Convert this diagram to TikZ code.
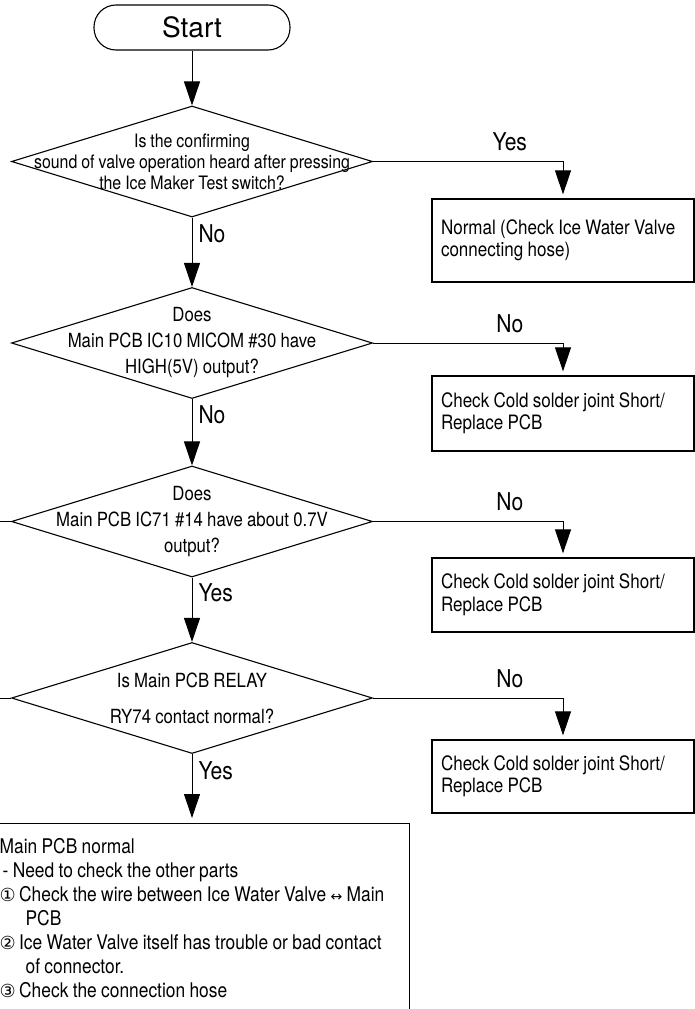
\documentclass[tikz,border=0pt]{standalone}
\usepackage{fontspec}
\setmainfont{TeX Gyre Heros}
\newfontfamily\narrowfont[FakeStretch=0.86, WordSpace=0.9]{TeX Gyre Heros}
\newfontfamily\symbolfont{DejaVu Sans}
\usetikzlibrary{arrows.meta,shapes.geometric}
\newcommand{\symb}[2][18]{{\symbolfont\fontsize{#1}{#1}\selectfont #2}}

\begin{document}
\begin{tikzpicture}[
  x=1pt, y=-1pt,
  >={Triangle[length=24pt,width=16pt]},
  startbox/.style={draw, line width=1.1pt, rounded corners=22pt,
    minimum width=196pt, minimum height=45pt, inner sep=0pt,
    font=\fontsize{28}{30}\selectfont},
  decision/.style={diamond, draw, line width=1.1pt, minimum width=361pt,
    minimum height=111pt, inner sep=0pt},
  qtext/.style={align=center, inner sep=0pt,
    font=\narrowfont\fontsize{19.5}{26}\selectfont},
  result/.style={draw, line width=1.3pt, minimum width=262pt, text width=244pt,
    inner xsep=9pt, align=flush left, font=\narrowfont\fontsize{19.8}{22.5}\selectfont},
  final/.style={draw, line width=1.3pt, text width=400pt, inner xsep=10pt,
    inner ysep=15pt, align=flush left, font=\narrowfont\fontsize{20.2}{24}\selectfont},
  flow/.style={->, line width=1pt},
  lab/.style={inner sep=0pt, font=\narrowfont\fontsize{24.5}{26}\selectfont}
]
  \fill[white] (0,0) rectangle (695,1009);
  \useasboundingbox (0,0) rectangle (695,1009);
  \clip (0,0) rectangle (695,1009);

  % main column
  \node[startbox] (start) at (192,27.5) {Start};
  \node[decision] (d1) at (192,161.5) {};
  \node[qtext, font=\narrowfont\fontsize{18.5}{21}\selectfont] (q1) at (d1.center)
    {Is the confirming\\sound of valve operation heard after pressing\\the Ice Maker Test switch?};
  \node[decision] (d2) at (192,343) {};
  \node[qtext] (q2) at (d2.center)
    {Does\\Main PCB IC10 MICOM \#30 have\\HIGH(5V) output?};
  \node[decision] (d3) at (192,521.5) {};
  \node[qtext] (q3) at (d3.center)
    {Does\\Main PCB IC71 \#14 have about 0.7V\\output?};
  \node[decision] (d4) at (192,698) {};
  \node[qtext, font=\narrowfont\fontsize{19.5}{36}\selectfont] (q4) at (d4.center)
    {Is Main PCB RELAY\\RY74 contact normal?};
  \node[final, anchor=north west] (fin) at (-11,823)
    {Main PCB normal\\
     \hspace*{3pt}- Need to check the other parts\\
     \symb{①}\,Check the wire between Ice Water Valve \symb[14]{↔} Main\\
     \hspace*{26pt}PCB\\
     \symb{②}\,Ice Water Valve itself has trouble or bad contact\\
     \hspace*{26pt}of connector.\\
     \symb{③}\,Check the connection hose};

  % right column
  \node[result, minimum height=83pt] (b1) at (563,240.5)
    {Normal (Check Ice Water Valve\\connecting hose)};
  \node[result, minimum height=75pt] (b2) at (563,413.5)
    {Check Cold solder joint Short/\\Replace PCB};
  \node[result, minimum height=74pt] (b3) at (563,595)
    {Check Cold solder joint Short/\\Replace PCB};
  \node[result, minimum height=73pt] (b4) at (563,776.5)
    {Check Cold solder joint Short/\\Replace PCB};

  \draw[flow] (start.south) -- (d1.north);
  \draw[flow] (d1.south) -- node[lab, right=6pt, pos=0.24]{No} (d2.north);
  \draw[flow] (d2.south) -- node[lab, right=6pt, pos=0.24]{No} (d3.north);
  \draw[flow] (d3.south) -- node[lab, right=6pt, pos=0.24]{Yes} (d4.north);
  \draw[flow, shorten >=5pt] (d4.south) -- node[lab, right=6pt, pos=0.24]{Yes} (fin.north -| d4.south);

  \draw[flow, shorten >=4pt] (d1.east) -| node[lab, above=10pt, pos=0.36]{Yes} (b1.north);
  \draw[flow, shorten >=4pt] (d2.east) -| node[lab, above=10pt, pos=0.36]{No} (b2.north);
  \draw[flow, shorten >=4pt] (d3.east) -| node[lab, above=10pt, pos=0.36]{No} (b3.north);
  \draw[flow, shorten >=4pt] (d4.east) -| node[lab, above=10pt, pos=0.36]{No} (b4.north);

  % lines leaving to the left
  \coordinate (out3) at (-5,521.5);
  \coordinate (out4) at (-5,698);
  \draw[line width=1pt] (d3.west) -- (out3);
  \draw[line width=1pt] (d4.west) -- (out4);
\end{tikzpicture}
\end{document}
